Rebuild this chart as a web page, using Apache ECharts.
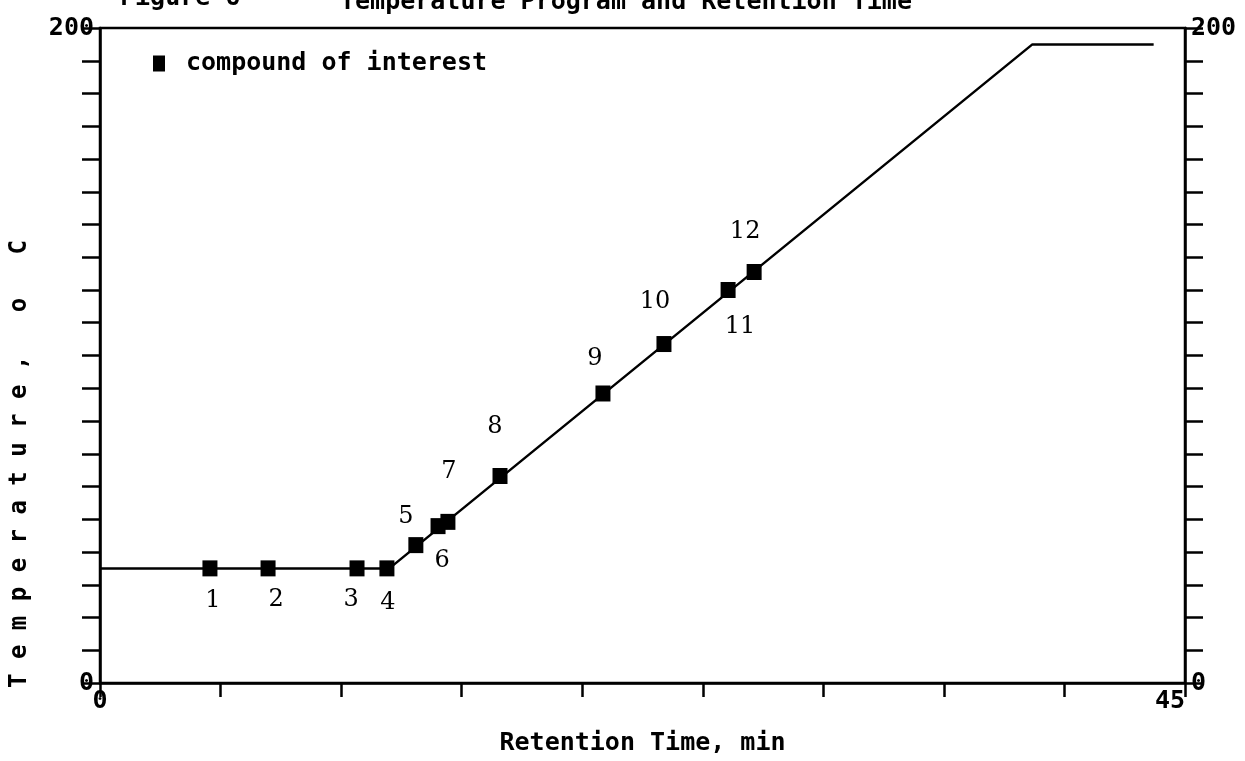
<!DOCTYPE html>
<html>
<head>
<meta charset="utf-8">
<script src="https://cdn.jsdelivr.net/npm/echarts@6/dist/echarts.min.js"></script>
<style>
html,body{margin:0;padding:0;background:#fff;}
#chart{width:1245px;height:761px;}
</style>
</head>
<body>
<div id="chart"></div>
<script>
// Temperature program (time in min, temperature in °C)
const programTime = [0, 12, 38.67, 43.7];
const programTemp = [35, 35, 195, 195];

// Compounds of interest
const compoundLabels = ['1','2','3','4','5','6','7','8','9','10','11','12'];
const compoundTime = [4.56, 6.97, 10.66, 11.9, 13.1, 14.02, 14.43, 16.59, 20.86, 23.39, 26.05, 27.13];
const compoundTemp = [35, 35, 35, 35, 42.1, 47.9, 49.2, 63.2, 88.4, 103.5, 120, 125.5];

// Axis ticks
const xTicks = [0, 45];
const yTicks = [0, 200];

// label placement (styling only)
const labelOffsets = [[3,32],[8,31],[-6,31],[1,34],[-10,-28],[4,35],[1,-50],[-5,-49],[-8,-35],[-9,-42],[12,37],[-9,-40]];

const MONO = '"DejaVu Sans Mono", monospace';
const SERIF = '"DejaVu Serif", serif';

const chart = echarts.init(document.getElementById('chart'));

const axisLineStyle = {color:'#000', width:2.5};

const yAxisCommon = {
  type:'value', min:0, max:200, interval:10,
  axisLine:{show:true, lineStyle:axisLineStyle},
  axisTick:{show:true, inside:false, length:18, lineStyle:{color:'#000', width:2.5}},
  splitLine:{show:false},
  axisLabel:{
    show:true, margin:6, color:'#000', fontFamily:MONO, fontWeight:'bold', fontSize:25,
    formatter: v => yTicks.indexOf(v) >= 0 ? String(v) : ''
  }
};

const option = {
  animation:false,
  backgroundColor:'#fff',
  grid:{left:100, right:60, top:28, bottom:78, show:true, borderColor:'#000', borderWidth:2.5, backgroundColor:'transparent'},
  legend:{
    show:true, left:148, top:46, orient:'horizontal',
    icon:'rect', itemWidth:12, itemHeight:16,
    data:['compound of interest'],
    itemStyle:{opacity:1, color:'#000'},
    textStyle:{color:'#000', fontFamily:MONO, fontWeight:'bold', fontSize:25, padding:[0,0,0,16]}
  },
  xAxis:{
    type:'value', min:0, max:45, interval:5,
    axisLine:{show:true, onZero:false, lineStyle:axisLineStyle},
    axisTick:{show:true, inside:false, length:14, lineStyle:{color:'#000', width:2.5}},
    splitLine:{show:false},
    axisLabel:{
      show:true, margin:6, color:'#000', fontFamily:MONO, fontWeight:'bold', fontSize:25,
      alignMaxLabel:'right',
      formatter: v => xTicks.indexOf(v) >= 0 ? String(v) : ''
    },
    name:'Retention Time, min', nameLocation:'middle', nameGap:48,
    nameTextStyle:{color:'#000', fontFamily:MONO, fontWeight:'bold', fontSize:25}
  },
  yAxis:[
    Object.assign({position:'left'}, yAxisCommon),
    Object.assign({position:'right'}, yAxisCommon)
  ],
  graphic:[
    {type:'text', left:120, top:-14, style:{text:'Figure 6', font:'bold 25px ' + MONO, fill:'#000'}},
    {type:'text', left:340, top:-10, style:{text:'Temperature Program and Retention Time', font:'bold 25px ' + MONO, fill:'#000'}},
    {type:'text', x:20, y:464, rotation:Math.PI/2,
     style:{text:'T e m p e r a t u r e ,   o   C', font:'bold 24px ' + MONO, fill:'#000', align:'center', verticalAlign:'middle'}}
  ],
  series:[
    {
      name:'program', type:'line', yAxisIndex:0,
      data: programTime.map((t,i) => [t, programTemp[i]]),
      showSymbol:false, symbol:'none',
      lineStyle:{color:'#000', width:2.5},
      z:2
    },
    {
      name:'compound of interest', type:'scatter', yAxisIndex:0,
      symbol:'rect', symbolSize:[15,16],
      itemStyle:{color:'#000', opacity:1},
      data: compoundTime.map((t,i) => ({
        value:[t, compoundTemp[i]],
        label:{show:true, position:'inside', offset:labelOffsets[i], formatter:compoundLabels[i],
               color:'#000', fontFamily:SERIF, fontSize:24}
      })),
      z:3
    }
  ]
};

chart.setOption(option);
</script>
</body>
</html>
